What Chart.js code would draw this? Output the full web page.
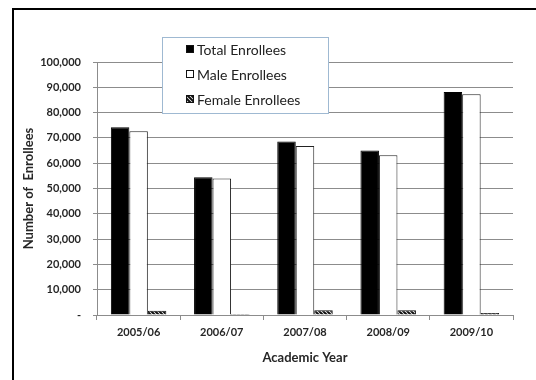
<!DOCTYPE html>
<html>
<head>
<meta charset="utf-8">
<script src="https://cdn.jsdelivr.net/npm/chart.js@4"></script>
<style>
  html, body { margin: 0; padding: 0; background: #fff; }
  #wrap { width: 536px; height: 380px; position: relative; }
</style>
</head>
<body>
<div id="wrap"><canvas id="enrolleesChart" width="536" height="380"></canvas></div>
<script>
// dados
const academicYears = ['2005/06', '2006/07', '2007/08', '2008/09', '2009/10'];
const totalEnrollees = [74200, 54400, 68600, 65000, 88100];
const maleEnrollees = [72600, 54000, 66800, 63100, 87300];
const femaleEnrollees = [1700, 400, 1900, 1900, 800];
const yMax = 100000;
const yStep = 10000;

// hachura diagonal para as mulheres
function makeHatch() {
  const c = document.createElement('canvas');
  c.width = 4; c.height = 4;
  const g = c.getContext('2d');
  g.fillStyle = '#fff';
  g.fillRect(0, 0, 4, 4);
  g.strokeStyle = '#111';
  g.lineWidth = 2;
  g.beginPath();
  g.moveTo(-1, -1); g.lineTo(5, 5);
  g.moveTo(-1, 3); g.lineTo(1, 5);
  g.moveTo(3, -1); g.lineTo(5, 1);
  g.stroke();
  return g.createPattern(c, 'repeat');
}

const ctx = document.getElementById('enrolleesChart').getContext('2d');
const hatch = makeHatch();

// moldura preta do quadro
const framePlugin = {
  id: 'frame',
  beforeDraw(chart) {
    const c = chart.ctx;
    c.save();
    c.fillStyle = '#fff';
    c.fillRect(0, 0, chart.width, chart.height);
    c.strokeStyle = '#000';
    c.lineWidth = 2;
    c.beginPath();
    c.moveTo(13, chart.height);
    c.lineTo(13, 9);
    c.lineTo(chart.width, 9);
    c.stroke();
    c.restore();
  }
};

// legenda em caixa sobre a área do gráfico
const boxLegend = {
  id: 'boxLegend',
  afterDraw(chart) {
    const c = chart.ctx;
    const x = 162, y = 37, w = 166, h = 76;
    c.save();
    c.fillStyle = '#fff';
    c.fillRect(x, y, w, h);
    c.strokeStyle = '#9fb9d2';
    c.lineWidth = 1;
    c.strokeRect(x + 0.5, y + 0.5, w, h);
    c.font = '14px Lato';
    c.textBaseline = 'middle';
    chart.data.datasets.forEach((ds, i) => {
      const cy = 49 + i * 25;
      c.fillStyle = ds.backgroundColor;
      c.fillRect(186, cy - 4, 8, 8);
      c.strokeStyle = '#111';
      c.strokeRect(186.5, cy - 3.5, 7, 7);
      c.fillStyle = '#222';
      c.fillText(ds.label, 197, cy + 1);
    });
    c.restore();
  }
};

const tickFont = { family: 'Lato', size: 11, weight: 'bold' };
const titleFont = { family: 'Lato', size: 13, weight: 'bold' };

const chart = new Chart(ctx, {
  type: 'bar',
  data: {
    labels: academicYears,
    datasets: [
      {
        label: 'Total Enrollees',
        data: totalEnrollees,
        backgroundColor: '#000',
        borderColor: '#000',
        borderWidth: 1
      },
      {
        label: 'Male Enrollees',
        data: maleEnrollees,
        backgroundColor: '#fff',
        borderColor: '#222',
        borderWidth: 1
      },
      {
        label: 'Female Enrollees',
        data: femaleEnrollees,
        backgroundColor: hatch,
        borderColor: '#111',
        borderWidth: 1
      }
    ]
  },
  options: {
    responsive: false,
    animation: false,
    layout: { padding: { left: 18, top: 62, right: 23, bottom: 10 } },
    plugins: {
      legend: { display: false },
      tooltip: { enabled: false }
    },
    datasets: {
      bar: { categoryPercentage: 0.667, barPercentage: 1 }
    },
    scales: {
      x: {
        afterFit(scale) { scale.height = 55; },
        grid: { drawOnChartArea: false, color: '#8c8c8c', tickLength: 5 },
        border: { color: '#8c8c8c' },
        ticks: { color: '#262626', font: tickFont, padding: 6 },
        title: { display: true, text: 'Academic Year', color: '#262626', font: titleFont, padding: { top: 0, bottom: 4 } }
      },
      y: {
        min: 0,
        max: yMax,
        afterFit(scale) { scale.width = 79; },
        grid: { color: '#8c8c8c', tickLength: 4 },
        border: { color: '#8c8c8c' },
        ticks: {
          stepSize: yStep,
          color: '#262626',
          font: tickFont,
          padding: 12,
          callback: (v) => v === 0 ? '-' : v.toLocaleString('en-US')
        },
        title: { display: true, text: 'Number of  Enrollees', color: '#262626', font: titleFont, padding: { top: 3, bottom: 0 } }
      }
    }
  },
  plugins: [framePlugin, boxLegend]
});
</script>
</body>
</html>
